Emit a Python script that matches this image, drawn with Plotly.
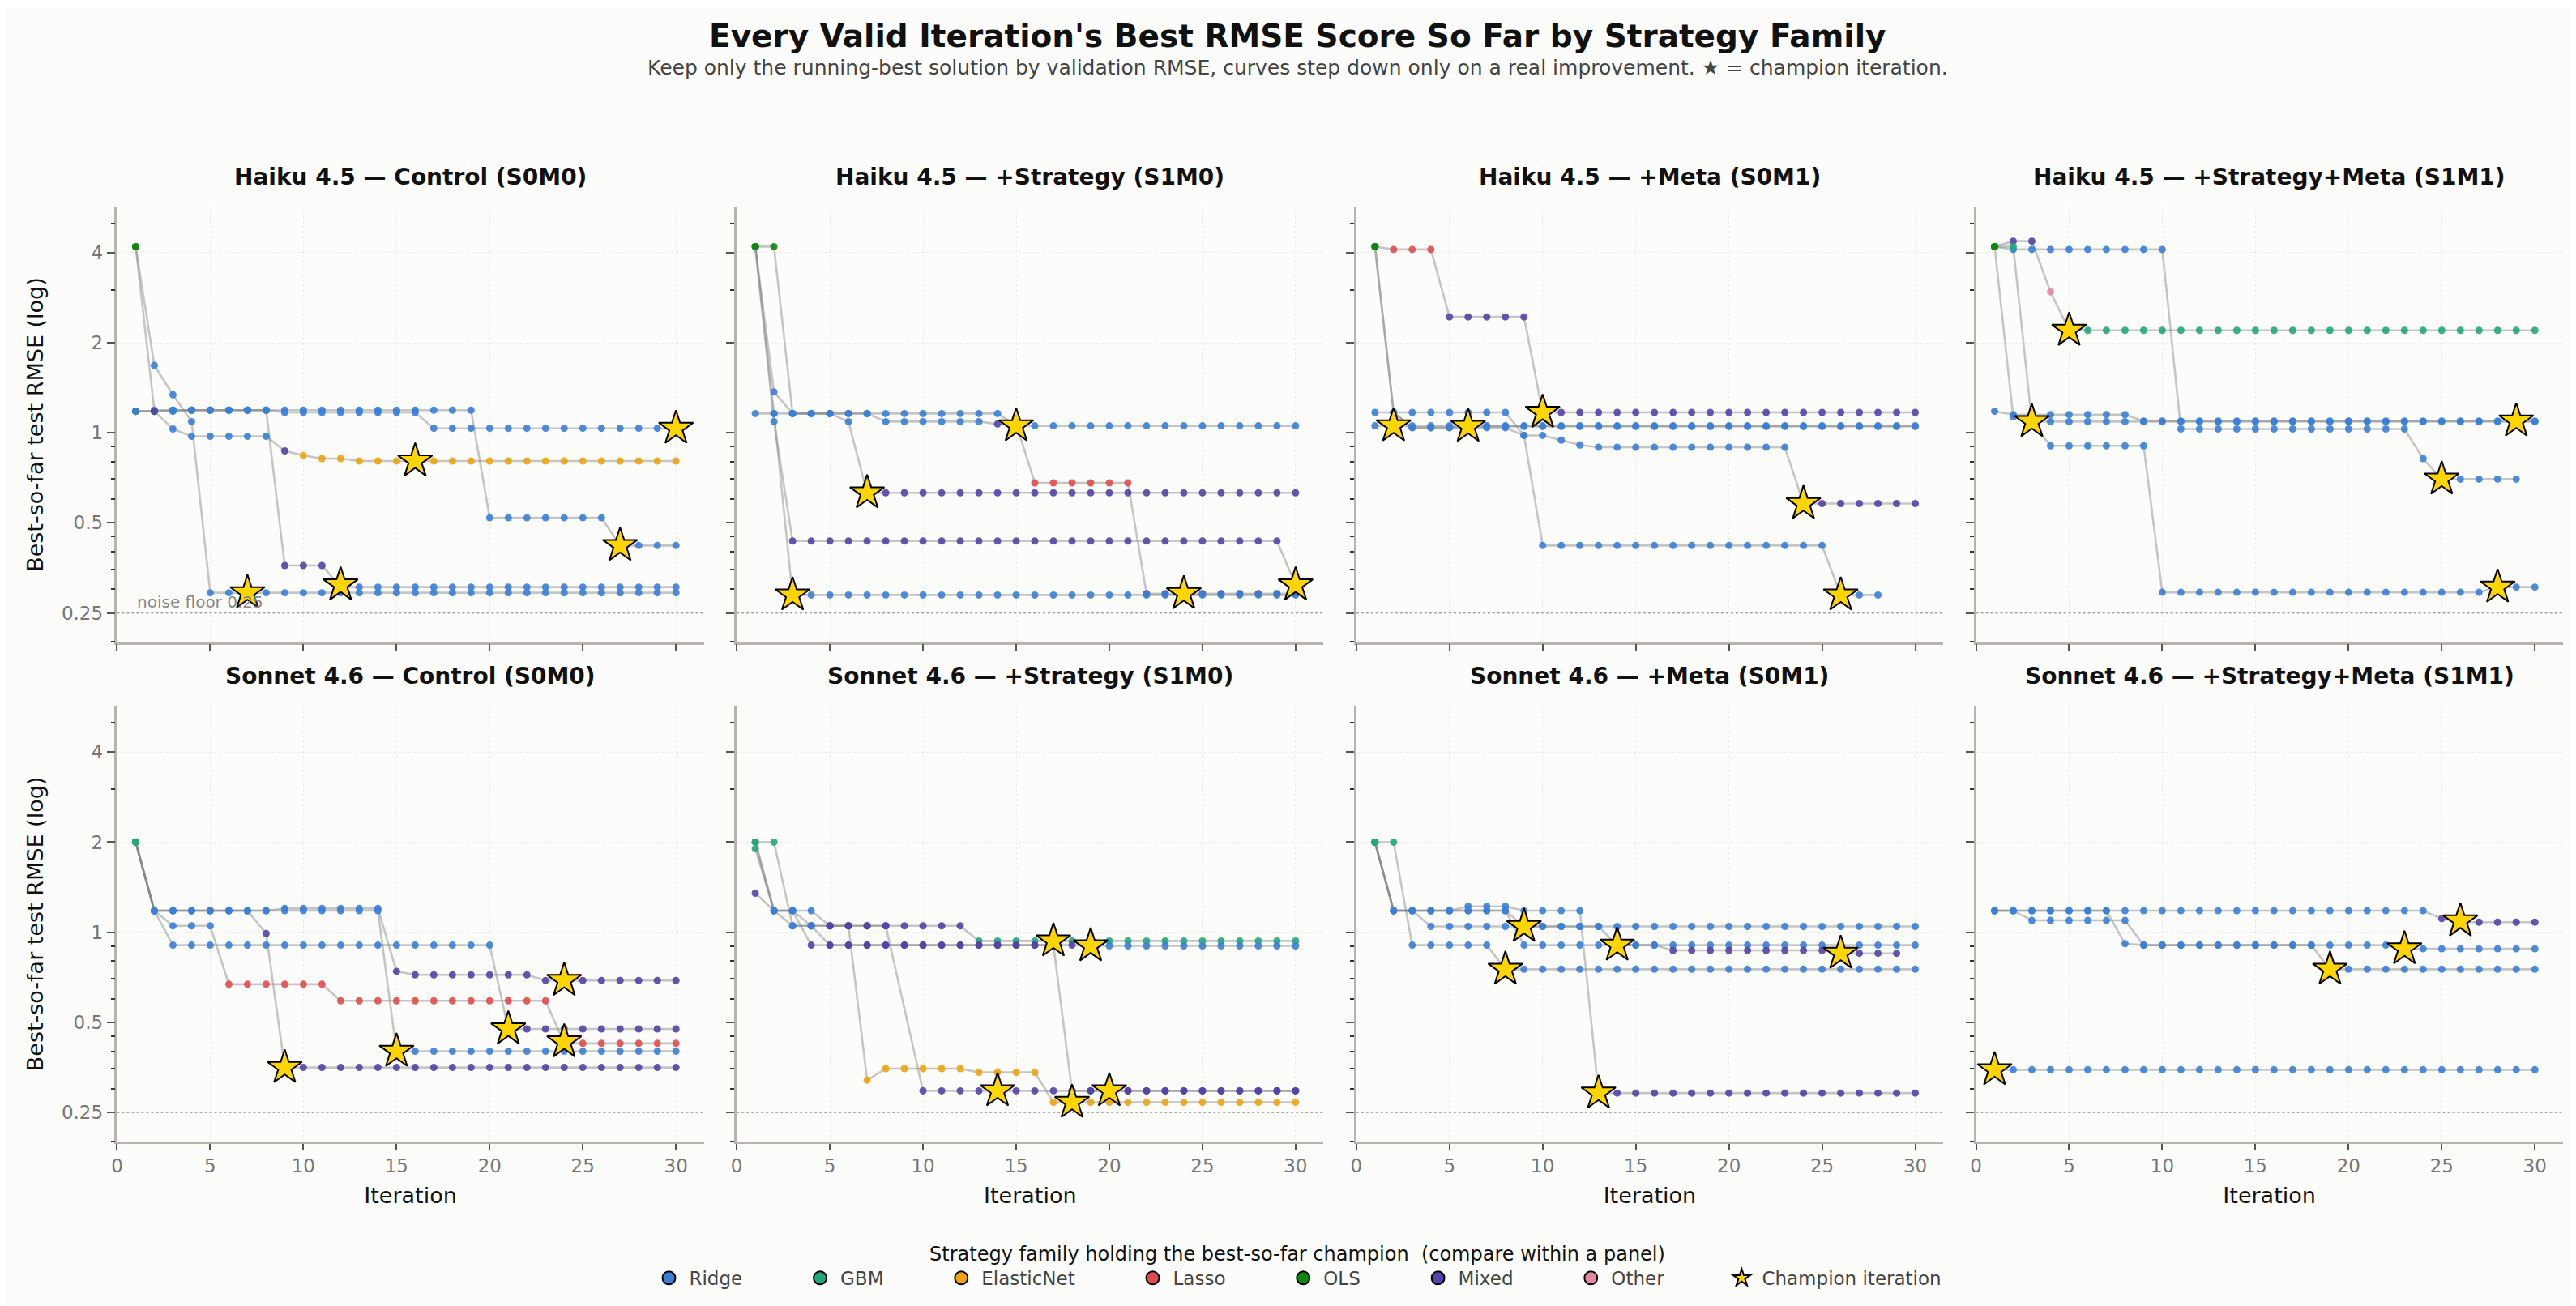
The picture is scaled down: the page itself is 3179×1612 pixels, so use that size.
import math
import plotly.graph_objects as go

# family codes -> names / colours
FAMILIES = ["Ridge", "GBM", "ElasticNet", "Lasso", "OLS", "Mixed", "Other"]
CODES = {"R": "Ridge", "G": "GBM", "E": "ElasticNet", "L": "Lasso", "O": "OLS", "M": "Mixed", "P": "Other"}
COLORS = {"Ridge": "#3a7fd9", "GBM": "#22a77b", "ElasticNet": "#f0a30f", "Lasso": "#e14b4f",
          "OLS": "#0d870d", "Mixed": "#5443aa", "Other": "#e786a8"}

PANEL_TITLES = ["Haiku 4.5 — Control (S0M0)", "Haiku 4.5 — +Strategy (S1M0)",
                "Haiku 4.5 — +Meta (S0M1)", "Haiku 4.5 — +Strategy+Meta (S1M1)",
                "Sonnet 4.6 — Control (S0M0)", "Sonnet 4.6 — +Strategy (S1M0)",
                "Sonnet 4.6 — +Meta (S0M1)", "Sonnet 4.6 — +Strategy+Meta (S1M1)"]

# Each run: list of best-so-far plateaus (first_iter, last_iter, best RMSE, family) and champion (iter, RMSE)
haiku_s0m0 = [
    ([(1, 1, 4.19, "O"), (2, 2, 1.68, "R"), (3, 3, 1.34, "R"), (4, 4, 1.09, "R"), (5, 30, 0.292, "R")], (7, 0.292)),
    ([(1, 2, 1.18, "M"), (3, 8, 1.19, "R"), (9, 11, 0.36, "M"), (12, 30, 0.305, "R")], (12, 0.31)),
    ([(1, 1, 4.19, "O"), (2, 8, 1.19, "R"), (9, 16, 1.17, "R"), (17, 30, 1.035, "R")], (30, 1.035)),
    ([(1, 1, 1.18, "O"), (2, 3, 1.18, "R"), (4, 19, 1.19, "R"), (20, 26, 0.52, "R"), (27, 30, 0.42, "R")], (27, 0.42)),
    ([(1, 1, 1.18, "R"), (2, 2, 1.18, "M"), (3, 3, 1.03, "R"), (4, 8, 0.973, "R"), (9, 9, 0.87, "M"),
      (10, 10, 0.84, "E"), (11, 12, 0.82, "E"), (13, 30, 0.805, "E")], (16, 0.805)),
]
haiku_s1m0 = [
    ([(1, 1, 4.19, "O"), (2, 2, 1.37, "R"), (3, 14, 1.16, "R"), (15, 30, 1.055, "R")], (15, 1.055)),
    ([(1, 2, 4.19, "O"), (3, 5, 1.16, "R"), (6, 6, 1.09, "R"), (7, 30, 0.63, "M")], (7, 0.63)),
    ([(1, 7, 1.16, "R"), (8, 13, 1.09, "R"), (14, 15, 1.07, "M"), (16, 21, 0.68, "L"), (22, 30, 0.29, "M")], (24, 0.29)),
    ([(1, 1, 4.19, "O"), (2, 2, 1.09, "R"), (3, 29, 0.435, "M"), (30, 30, 0.31, "M")], (30, 0.31)),
    ([(1, 1, 4.19, "O"), (2, 2, 1.16, "R"), (3, 30, 0.287, "R")], (3, 0.287)),
]
haiku_s0m1 = [
    ([(1, 1, 4.19, "O"), (2, 4, 4.1, "L"), (5, 9, 2.44, "M"), (10, 30, 1.17, "M")], (10, 1.17)),
    ([(1, 8, 1.17, "R"), (9, 10, 0.98, "R"), (11, 11, 0.945, "R"), (12, 12, 0.91, "R"), (13, 23, 0.895, "R"),
      (24, 30, 0.58, "M")], (24, 0.58)),
    ([(1, 30, 1.055, "R")], (2, 1.055)),
    ([(1, 1, 4.19, "O"), (2, 2, 1.17, "R"), (3, 5, 1.04, "R"), (6, 30, 1.05, "R")], (6, 1.05)),
    ([(1, 1, 4.19, "O"), (2, 2, 1.17, "R"), (3, 8, 1.04, "R"), (9, 9, 0.98, "R"), (10, 25, 0.42, "R"),
      (26, 28, 0.287, "R")], (26, 0.287)),
]
haiku_s1m1 = [
    ([(1, 1, 4.19, "O"), (2, 3, 4.37, "M"), (4, 4, 2.96, "P"), (5, 30, 2.2, "G")], (5, 2.2)),
    ([(1, 1, 4.19, "O"), (2, 10, 4.1, "R"), (11, 23, 1.03, "R"), (24, 24, 0.82, "R"), (25, 29, 0.70, "R")], (25, 0.70)),
    ([(1, 1, 4.19, "O"), (2, 2, 4.19, "G"), (3, 3, 1.09, "R"), (4, 9, 0.905, "R"), (10, 27, 0.293, "R"),
      (28, 30, 0.305, "R")], (28, 0.305)),
    ([(1, 1, 1.18, "R"), (2, 8, 1.15, "R"), (9, 30, 1.095, "R")], (29, 1.095)),
    ([(1, 1, 4.19, "O"), (2, 2, 1.13, "R"), (3, 30, 1.09, "R")], (3, 1.09)),
]
sonnet_s0m0 = [
    ([(1, 1, 2.0, "G"), (2, 8, 1.18, "R"), (9, 14, 1.2, "R"), (15, 15, 0.74, "M"), (16, 22, 0.72, "M"),
      (23, 30, 0.69, "M")], (24, 0.69)),
    ([(1, 1, 2.0, "G"), (2, 2, 1.18, "R"), (3, 5, 1.05, "R"), (6, 11, 0.67, "L"), (12, 23, 0.59, "L"),
      (24, 30, 0.425, "L")], (24, 0.43)),
    ([(1, 1, 2.0, "G"), (2, 2, 1.18, "R"), (3, 20, 0.905, "R"), (21, 30, 0.475, "M")], (21, 0.475)),
    ([(1, 1, 2.0, "G"), (2, 7, 1.18, "R"), (8, 8, 0.99, "M"), (9, 30, 0.353, "M")], (9, 0.353)),
    ([(1, 1, 2.0, "G"), (2, 14, 1.18, "R"), (15, 30, 0.40, "R")], (15, 0.40)),
]
sonnet_s1m0 = [
    ([(1, 2, 2.0, "G"), (3, 6, 1.05, "R"), (7, 7, 0.32, "E"), (8, 12, 0.35, "E"), (13, 16, 0.34, "E"),
      (17, 30, 0.27, "E")], (18, 0.27)),
    ([(1, 1, 1.9, "G"), (2, 3, 1.18, "R"), (4, 8, 1.05, "M"), (10, 30, 0.295, "M")], (14, 0.295)),
    ([(1, 1, 1.35, "M"), (2, 4, 1.18, "R"), (5, 12, 1.05, "M"), (13, 30, 0.935, "G")], (17, 0.935)),
    ([(1, 1, 2.0, "G"), (2, 3, 1.18, "R"), (4, 18, 0.905, "M"), (19, 30, 0.90, "R")], (19, 0.90)),
    ([(1, 1, 2.0, "G"), (2, 2, 1.18, "R"), (3, 4, 1.05, "R"), (5, 17, 0.905, "M"), (18, 30, 0.295, "M")], (20, 0.295)),
]
sonnet_s0m1 = [
    ([(1, 1, 2.0, "G"), (2, 8, 1.18, "R"), (9, 30, 1.045, "R")], (9, 1.045)),
    ([(1, 1, 2.0, "G"), (2, 5, 1.18, "R"), (6, 8, 1.22, "R"), (9, 12, 1.18, "R"), (13, 30, 0.29, "M")], (13, 0.29)),
    ([(1, 2, 2.0, "G"), (3, 7, 0.905, "R"), (8, 30, 0.752, "R")], (8, 0.752)),
    ([(1, 1, 2.0, "G"), (2, 3, 1.18, "R"), (4, 13, 1.045, "R"), (14, 30, 0.905, "R")], (14, 0.905)),
    ([(1, 1, 2.0, "G"), (2, 8, 1.18, "R"), (9, 16, 0.905, "R"), (17, 25, 0.87, "M"), (26, 29, 0.85, "M")], (26, 0.85)),
]
sonnet_s1m1 = [
    ([(1, 30, 0.347, "R")], (1, 0.347)),
    ([(1, 24, 1.18, "R"), (25, 25, 1.11, "M"), (26, 30, 1.08, "M")], (26, 1.09)),
    ([(1, 2, 1.18, "R"), (3, 8, 1.095, "R"), (9, 22, 0.905, "R"), (23, 30, 0.88, "R")], (23, 0.88)),
    ([(1, 7, 1.18, "R"), (8, 8, 0.915, "R"), (9, 18, 0.905, "R"), (19, 30, 0.752, "R")], (19, 0.752)),
]
PANELS = [haiku_s0m0, haiku_s1m0, haiku_s0m1, haiku_s1m1, sonnet_s0m0, sonnet_s1m0, sonnet_s0m1, sonnet_s1m1]

Y_TICKS = [0.25, 0.5, 1, 2, 4]
X_TICKS = [0, 5, 10, 15, 20, 25, 30]
NOISE_FLOOR = 0.25

W, H = 1568.0, 795.0
XDOM = [(64, 422), (442, 800), (820, 1178), (1198, 1556)]
YDOM = [(122, 387), (426, 691)]

fig = go.Figure()
layout = {}
annotations = []
shapes = []
line_traces, mark_traces, star_traces = [], [], []

for p, runs in enumerate(PANELS):
    r, c = divmod(p, 4)
    ax = "" if p == 0 else str(p + 1)
    xa, ya = "x" + ax, "y" + ax
    for segs, champ in runs:
        xs, ys, cols = [], [], []
        for a, b, v, f in segs:
            for i in range(a, b + 1):
                xs.append(i); ys.append(v); cols.append(COLORS[CODES[f]])
        line_traces.append(go.Scatter(x=xs, y=ys, mode="lines", xaxis=xa, yaxis=ya,
                                      line=dict(color="rgba(130,130,130,0.45)", width=2.6),
                                      showlegend=False, hoverinfo="skip"))
        mark_traces.append(go.Scatter(x=xs, y=ys, mode="markers", xaxis=xa, yaxis=ya,
                                      marker=dict(color=cols, size=9, opacity=0.9, line=dict(width=0)),
                                      showlegend=False))
        star_traces.append(go.Scatter(x=[champ[0]], y=[champ[1]], mode="markers", xaxis=xa, yaxis=ya,
                                      marker=dict(symbol="star", size=32, color="#ffd500",
                                                  line=dict(color="black", width=2)),
                                      showlegend=False))
    x0, x1 = XDOM[c]; y0, y1 = YDOM[r]
    layout["xaxis" + ax] = dict(domain=[x0 / W, x1 / W], range=[0, 31.5], anchor=ya,
                                tickvals=X_TICKS, showticklabels=(r == 1),
                                title=dict(text="Iteration" if r == 1 else "", font=dict(size=27, color="#111")),
                                showgrid=True, gridcolor="rgba(0,0,0,0.06)", griddash="dot", gridwidth=1.2,
                                zeroline=False, showline=True, linecolor="#b5b5ad", linewidth=2.5,
                                ticks="outside", ticklen=8, tickwidth=2, tickcolor="#555",
                                tickfont=dict(size=23, color="#777"))
    layout["yaxis" + ax] = dict(domain=[1 - y1 / H, 1 - y0 / H], type="log", range=[-0.70, 0.755], anchor=xa,
                                tickvals=Y_TICKS, ticktext=[str(t) for t in Y_TICKS], showticklabels=(c == 0),
                                title=dict(text="Best-so-far test RMSE (log)" if c == 0 else "",
                                           font=dict(size=27, color="#111")),
                                showgrid=True, gridcolor="rgba(0,0,0,0.06)", griddash="dot", gridwidth=1.2,
                                zeroline=False, showline=True, linecolor="#b5b5ad", linewidth=2.5,
                                ticks="outside", ticklen=10, tickwidth=2, tickcolor="#555",
                                tickfont=dict(size=23, color="#777"),
                                minor=dict(tickvals=[0.2, 0.3, 0.35, 0.4, 0.45, 0.6, 0.7, 0.8, 0.9, 3, 5],
                                           ticks="outside", ticklen=5, tickcolor="#333", showgrid=False))
    annotations.append(dict(text="<b>" + PANEL_TITLES[p] + "</b>", xref=xa + " domain", yref=ya + " domain",
                            x=0.5, y=1.035, xanchor="center", yanchor="bottom", showarrow=False,
                            font=dict(size=28, color="#111")))
    shapes.append(dict(type="line", xref=xa + " domain", yref=ya, x0=0, x1=1, y0=NOISE_FLOOR, y1=NOISE_FLOOR,
                       line=dict(color="rgba(120,120,120,0.6)", width=2, dash="dot"), layer="below"))
    if p == 0:
        annotations.append(dict(text="noise floor 0.25", xref=xa, yref=ya, x=1.0, y=math.log10(0.272),
                                xanchor="left", yanchor="middle", showarrow=False,
                                font=dict(size=20, color="#888")))

for t in line_traces + mark_traces + star_traces:
    fig.add_trace(t)

PAD = "\u00a0" * 9
for fam in FAMILIES:
    fig.add_trace(go.Scatter(x=[None], y=[None], mode="markers", name=fam + PAD,
                             marker=dict(color=COLORS[fam], size=22, line=dict(color="black", width=2))))
fig.add_trace(go.Scatter(x=[None], y=[None], mode="markers", name="Champion iteration",
                         marker=dict(symbol="star", size=30, color="#ffd500", line=dict(color="black", width=2))))

annotations.append(dict(text="<b>Every Valid Iteration's Best RMSE Score So Far by Strategy Family</b>",
                        xref="paper", yref="paper", x=0.5, y=1 - 18 / H, xanchor="center", yanchor="middle",
                        showarrow=False, font=dict(size=39, color="#111")))
annotations.append(dict(text="Keep only the running-best solution by validation RMSE, curves step down only on a real improvement. ★ = champion iteration.",
                        xref="paper", yref="paper", x=0.5, y=1 - 37 / H, xanchor="center", yanchor="middle",
                        showarrow=False, font=dict(size=25, color="#444")))

fig.update_layout(**layout)
fig.update_layout(
    width=3179, height=1612, margin=dict(l=0, r=0, t=0, b=0),
    paper_bgcolor="#fcfcfa", plot_bgcolor="#fcfcfa",
    font=dict(family="DejaVu Sans", color="#333"),
    annotations=annotations, shapes=shapes,
    legend=dict(orientation="h", x=0.5, xanchor="center", y=1 - 748 / H, yanchor="top",
                title=dict(text="Strategy family holding the best-so-far champion  (compare within a panel)",
                           side="top center", font=dict(size=24, color="#111")),
                font=dict(size=23, color="#444"), bgcolor="rgba(0,0,0,0)", itemsizing="trace",
                itemwidth=40, tracegroupgap=0),
)
fig.write_html("out.html")
